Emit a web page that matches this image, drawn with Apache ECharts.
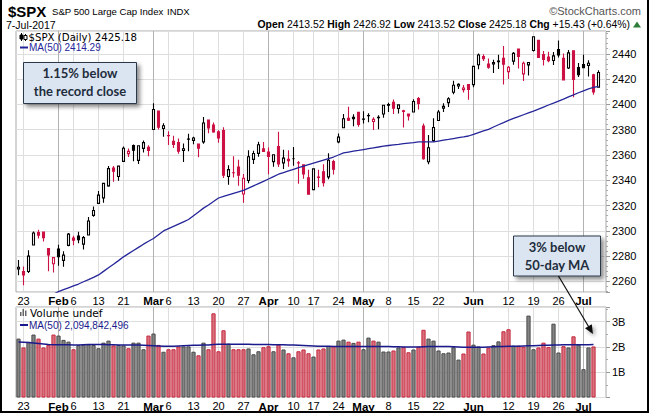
<!DOCTYPE html>
<html>
<head>
<meta charset="utf-8">
<script src="https://cdn.jsdelivr.net/npm/echarts@6/dist/echarts.min.js"></script>
<style>
html, body { margin: 0; padding: 0; background: #fff; }
#chart { width: 650px; height: 415px; }
</style>
</head>
<body>
<div id="chart"></div>
<script>
// trading days on the chart (2017)
var days = ['1/20','1/23','1/24','1/25','1/26','1/27','1/30','1/31',
  '2/1','2/2','2/3','2/6','2/7','2/8','2/9','2/10','2/13','2/14','2/15','2/16','2/17','2/21','2/22','2/23','2/24','2/27','2/28',
  '3/1','3/2','3/3','3/6','3/7','3/8','3/9','3/10','3/13','3/14','3/15','3/16','3/17','3/20','3/21','3/22','3/23','3/24','3/27','3/28','3/29','3/30','3/31',
  '4/3','4/4','4/5','4/6','4/7','4/10','4/11','4/12','4/13','4/17','4/18','4/19','4/20','4/21','4/24','4/25','4/26','4/27','4/28',
  '5/1','5/2','5/3','5/4','5/5','5/8','5/9','5/10','5/11','5/12','5/15','5/16','5/17','5/18','5/19','5/22','5/23','5/24','5/25','5/26','5/30','5/31',
  '6/1','6/2','6/5','6/6','6/7','6/8','6/9','6/12','6/13','6/14','6/15','6/16','6/19','6/20','6/21','6/22','6/23','6/26','6/27','6/28','6/29','6/30',
  '7/3','7/5','7/6','7/7'];

var opens = [2269.96,2267.78,2267.88,2288.88,2298.63,2299.02,2286.01,2274.02,
  2285.59,2276.69,2288.54,2294.28,2295.87,2289.55,2296.70,2312.27,2321.72,2326.12,2335.58,2349.64,2343.01,2354.91,2361.11,2367.50,2355.73,2365.23,2366.08,
  2380.13,2394.75,2380.92,2375.23,2370.74,2369.81,2363.49,2372.52,2371.56,2368.55,2370.34,2387.71,2383.71,2378.24,2379.32,2343.00,2345.97,2350.42,2329.11,2339.79,2356.54,2361.31,2364.82,
  2362.34,2354.76,2366.59,2353.79,2356.59,2357.16,2353.92,2352.15,2341.98,2332.62,2342.53,2346.79,2342.69,2354.74,2370.33,2381.51,2388.98,2389.70,2393.68,
  2388.50,2391.05,2386.50,2389.79,2392.37,2399.94,2401.58,2396.79,2394.84,2392.44,2393.98,2404.55,2382.95,2354.69,2371.37,2387.21,2397.04,2401.41,2409.54,2414.50,2411.67,2415.63,
  2415.65,2431.28,2437.83,2431.92,2432.03,2434.27,2436.39,2425.88,2434.15,2443.75,2424.14,2431.24,2442.55,2450.66,2439.31,2437.40,2434.65,2443.32,2436.34,2428.70,2442.38,2429.20,
  2431.39,2430.78,2423.44,2413.52];
var highs = [2276.96,2271.78,2284.63,2299.55,2300.99,2299.02,2286.01,2279.09,
  2289.14,2283.97,2298.31,2296.18,2299.40,2295.91,2311.08,2319.23,2331.58,2337.58,2351.30,2351.31,2351.16,2366.71,2365.13,2368.26,2367.34,2371.54,2367.79,
  2400.98,2394.75,2385.14,2378.80,2375.12,2373.09,2369.08,2376.86,2374.42,2368.55,2390.01,2388.10,2385.71,2379.55,2381.93,2351.81,2358.92,2356.22,2344.90,2363.78,2363.36,2370.42,2370.35,
  2365.87,2360.53,2378.36,2364.16,2363.76,2366.37,2355.22,2352.72,2348.26,2349.14,2348.35,2352.63,2361.37,2356.18,2376.98,2392.48,2398.16,2392.10,2393.68,
  2394.49,2392.93,2389.82,2391.43,2399.29,2401.36,2403.87,2399.74,2395.72,2392.44,2404.05,2405.77,2384.87,2375.74,2389.06,2395.46,2400.85,2405.58,2418.71,2416.68,2415.26,2415.99,
  2430.06,2440.23,2439.55,2436.21,2435.28,2439.27,2446.20,2430.38,2441.49,2443.75,2433.95,2433.15,2453.82,2450.66,2442.23,2441.62,2441.40,2450.42,2440.15,2442.97,2442.73,2432.71,
  2439.17,2434.90,2424.28,2426.92];
var lows = [2265.01,2257.02,2266.68,2288.88,2294.08,2291.62,2268.04,2267.21,
  2272.44,2271.65,2287.88,2288.57,2290.16,2285.38,2296.61,2311.10,2321.42,2322.17,2334.81,2338.87,2339.58,2354.91,2358.34,2355.09,2352.87,2361.87,2358.96,
  2380.13,2380.17,2374.42,2367.98,2365.51,2361.01,2354.54,2363.04,2368.52,2358.18,2368.94,2377.18,2377.64,2369.66,2341.90,2336.45,2342.13,2335.74,2322.25,2337.63,2352.94,2358.58,2362.60,
  2344.73,2350.72,2350.52,2348.90,2350.74,2351.50,2337.25,2341.18,2328.95,2332.51,2334.54,2335.05,2340.91,2344.51,2369.19,2381.15,2386.78,2382.68,2382.36,
  2384.83,2385.82,2379.75,2380.35,2389.38,2393.92,2392.44,2392.79,2381.74,2387.19,2393.94,2396.05,2356.21,2352.72,2370.43,2386.92,2393.88,2397.99,2408.01,2412.20,2409.43,2403.59,
  2413.54,2427.71,2434.32,2428.12,2424.75,2427.94,2415.70,2419.97,2431.28,2428.34,2418.53,2422.88,2441.79,2436.60,2430.74,2433.27,2431.11,2437.03,2419.38,2428.02,2405.70,2421.65,
  2428.69,2422.05,2407.70,2413.52];
var closes = [2271.31,2265.20,2280.07,2298.37,2296.68,2294.69,2280.90,2278.87,
  2279.55,2280.85,2297.42,2292.56,2293.08,2294.67,2307.87,2316.10,2328.25,2337.58,2349.25,2347.22,2351.16,2365.38,2362.82,2363.81,2367.34,2369.75,2363.64,
  2395.96,2381.92,2383.12,2375.31,2368.39,2362.98,2364.87,2372.60,2373.47,2365.45,2385.26,2381.38,2378.25,2373.47,2344.02,2348.45,2345.96,2343.98,2341.59,2358.57,2361.13,2368.06,2362.72,
  2358.84,2360.16,2352.95,2357.49,2355.54,2357.16,2353.78,2344.93,2328.95,2349.01,2342.19,2338.17,2355.84,2348.69,2374.15,2388.61,2387.45,2388.77,2384.20,
  2388.33,2391.17,2388.13,2389.52,2399.29,2399.38,2396.92,2399.63,2394.44,2390.90,2402.32,2400.67,2357.03,2365.72,2381.73,2394.02,2398.42,2404.39,2415.07,2415.82,2412.91,2411.80,
  2430.06,2439.07,2436.10,2429.33,2433.14,2433.79,2431.77,2429.39,2440.35,2437.92,2432.46,2433.15,2453.46,2437.03,2435.61,2434.50,2438.30,2439.07,2419.38,2440.69,2419.70,2423.41,
  2429.01,2432.54,2409.75,2425.18];

// 50-day moving average of the close
var ma50 = [2238,2240,2241.5,2243,2244.5,2246,2248,2250,
  2252,2253.5,2255,2256.5,2258,2259.8,2261.5,2263.3,2265.2,2268,2270.8,2273.6,2276.5,2279.5,2282,2284.5,2287,2289.5,2291.8,
  2294,2297,2300,2301.8,2303.6,2305.4,2307.2,2309,2312,2315,2318,2320.5,2323.2,2326,2327.2,2328.4,2329.6,2330.8,2332,2333.8,2335.6,2337.4,2339.2,
  2341,2342.9,2344.8,2346.1,2347.4,2348.7,2350,2351.2,2352.4,2353.6,2354.8,2356,2357.2,2358.4,2360,2361.6,2362.3,2363,2363.6,
  2364.3,2365,2365.7,2366.3,2367,2367.5,2368,2368.4,2368.9,2369.4,2369.8,2370.3,2370.3,2370.3,2370.3,2371,2371.7,2372.3,2373,2373.7,2374.3,2375,
  2376.3,2377.7,2379,2380.3,2382.1,2383.9,2385.6,2387.4,2388.9,2390.3,2391.8,2393.3,2394.7,2396.3,2397.9,2399.5,2401,2402.6,2404.2,2405.9,2407.5,2409.2,
  2410.7,2412.2,2413.5,2414.29];

// volume in billions (Jul 7 not reported yet)
var volumes = [2.33,1.98,2.20,2.49,2.33,1.98,2.08,2.49,
  2.45,2.28,2.21,1.91,2.07,2.10,2.10,2.08,1.95,2.17,2.25,2.06,2.08,2.06,1.95,2.17,2.17,1.91,2.45,
  2.53,2.08,1.81,1.91,1.91,2.02,2.02,2.02,1.81,1.67,2.17,1.91,3.33,1.83,2.66,2.13,1.91,1.91,1.91,1.94,1.71,1.83,1.99,
  2.03,1.83,2.09,1.90,1.75,1.59,1.83,1.90,1.75,1.62,1.90,1.94,2.04,2.04,2.25,2.29,2.21,2.16,2.21,
  1.91,2.37,2.25,2.21,1.82,1.82,1.86,1.98,2.00,1.79,1.90,2.01,2.68,2.33,2.25,1.86,1.75,1.78,1.99,1.50,1.74,2.61,
  2.09,2.02,1.74,1.97,2.07,2.22,2.62,2.70,2.05,2.05,2.01,3.24,1.91,1.98,2.17,2.00,2.92,1.78,2.03,1.98,2.42,2.09,
  1.12,1.98,2.02,null];
var volMa50 = [2.20,2.19,2.18,2.16,2.14,2.12,2.10,2.09,
  2.09,2.09,2.09,2.08,2.08,2.09,2.10,2.10,2.10,2.10,2.09,2.09,2.08,2.08,2.08,2.08,2.08,2.07,2.06,
  2.05,2.04,2.03,2.03,2.03,2.04,2.05,2.06,2.07,2.07,2.08,2.08,2.10,2.11,2.11,2.11,2.11,2.11,2.11,2.11,2.10,2.10,2.10,
  2.10,2.09,2.09,2.09,2.08,2.08,2.07,2.06,2.05,2.04,2.03,2.03,2.03,2.02,2.02,2.02,2.02,2.02,2.02,
  2.02,2.02,2.02,2.02,2.02,2.02,2.01,2.01,2.00,2.00,2.00,2.00,2.01,2.02,2.02,2.02,2.02,2.02,2.01,2.00,1.99,1.99,
  1.99,1.99,1.99,2.00,2.01,2.02,2.02,2.03,2.03,2.03,2.04,2.05,2.05,2.06,2.07,2.07,2.08,2.08,2.09,2.09,2.09,2.09,
  2.09,2.09,2.095,null];

// date labels under both panels
var tickDays = ['1/23','2/1','2/6','2/13','2/21','3/1','3/6','3/13','3/20','3/27','4/3','4/10','4/17','4/24',
  '5/1','5/8','5/15','5/22','6/1','6/12','6/19','6/26','7/3'];
var tickText = ['23','Feb','6','13','21','Mar','6','13','20','27','Apr','10','17','24',
  'May','8','15','22','Jun','12','19','26','Jul'];
var monthNames = ['Feb','Mar','Apr','May','Jun','Jul'];

var RED = '#cc1144';
var fam = '"Liberation Sans", Arial, sans-serif';
var wide = '"DejaVu Sans", Verdana, sans-serif';
var callFont = 'Lato, "Open Sans", sans-serif';
var cats = days.concat(['']);  // one empty slot after the last day

var candleData = [];
var volData = [];
for (var i = 0; i < days.length; i++) {
  var prev = i > 0 ? closes[i - 1] : closes[i];
  var col = closes[i] < prev ? RED : '#000';
  var fill = closes[i] > opens[i] ? '#fff' : col;
  candleData.push({
    value: [opens[i], closes[i], lows[i], highs[i]],
    itemStyle: { color: fill, color0: fill, borderColor: col, borderColor0: col, borderColorDoji: col }
  });
  var down = closes[i] < prev;
  volData.push({
    value: volumes[i] == null ? null : volumes[i] * 1e9,
    itemStyle: down
      ? { color: 'rgba(200,60,80,0.72)', borderColor: '#c8283c', borderWidth: 1 }
      : { color: '#848484', borderColor: '#4a4a4a', borderWidth: 1 }
  });
}

function isMonth(d) {
  var k = tickDays.indexOf(d);
  return k >= 0 && monthNames.indexOf(tickText[k]) >= 0;
}

var vLines = tickDays.map(function (d) {
  return { xAxis: d, lineStyle: { color: isMonth(d) ? '#b2b2b2' : '#dedede', width: 1, type: 'solid' } };
});

function xAxisFor(gi) {
  return {
    type: 'category', gridIndex: gi, data: cats, boundaryGap: true,
    axisLine: { show: false }, axisTick: { show: false }, splitLine: { show: false },
    axisLabel: {
      margin: 3, color: '#000', fontSize: 11, fontFamily: fam,
      interval: function (idx, val) { return tickDays.indexOf(val) >= 0; },
      formatter: function (val) {
        var k = tickDays.indexOf(val);
        if (k < 0) return '';
        return isMonth(val) ? '{b|' + tickText[k] + '}' : tickText[k];
      },
      rich: { b: { fontWeight: 'bold', fontSize: 11.5, fontFamily: fam, color: '#000' } }
    }
  };
}

function gridLinesSeries(xi, yi) {
  return {
    type: 'line', xAxisIndex: xi, yAxisIndex: yi, data: [], silent: true,
    markLine: { silent: true, z: 1, symbol: ['none', 'none'], label: { show: false }, animation: false, data: vLines }
  };
}

var notes = [
  // header
  { type: 'text', x: 8, y: 11, style: { text: '$SPX', fontSize: 15, fontWeight: 'bold', fontFamily: fam, fill: '#000', verticalAlign: 'middle' } },
  { type: 'text', x: 52, y: 11.5, style: { text: 'S&P 500 Large Cap Index', fontSize: 9.6, fontFamily: fam, fill: '#000', verticalAlign: 'middle' } },
  { type: 'text', x: 167, y: 11.5, style: { text: 'INDX', fontSize: 9.5, fontFamily: fam, fill: '#000', verticalAlign: 'middle' } },
  { type: 'text', x: 641, y: 11, style: { text: '\u00a9StockCharts.com', fontSize: 11, fontFamily: fam, fill: '#555', align: 'right', verticalAlign: 'middle' } },
  { type: 'text', x: 6, y: 25, style: { text: '7-Jul-2017', fontSize: 10.5, fontFamily: fam, fill: '#000', verticalAlign: 'middle' } },
  { type: 'text', x: 630, y: 24.5, style: {
    text: '{b|Open} 2413.52 {b|High} 2426.92 {b|Low} 2413.52 {b|Close} 2425.18 {b|Chg} +15.43 (+0.64%)',
    fontSize: 10.4, fontFamily: fam, fill: '#000', align: 'right', verticalAlign: 'middle',
    rich: { b: { fontWeight: 'bold', fontSize: 10.4, fontFamily: fam, fill: '#000' } }
  } },
  { type: 'polygon', shape: { points: [[633, 27.5], [641, 27.5], [637, 21.5]] }, style: { fill: '#2e7d3a' } },

  // price panel legend
  { type: 'line', shape: { x1: 21.5, y1: 33, x2: 21.5, y2: 41 }, style: { stroke: '#000', lineWidth: 1 } },
  { type: 'rect', shape: { x: 20, y: 35, width: 3, height: 4 }, style: { fill: '#000', stroke: '#000', lineWidth: 1 } },
  { type: 'line', shape: { x1: 25.5, y1: 34, x2: 25.5, y2: 41 }, style: { stroke: '#000', lineWidth: 1 } },
  { type: 'rect', shape: { x: 24, y: 35.5, width: 3, height: 4 }, style: { fill: '#fff', stroke: '#000', lineWidth: 1 } },
  { type: 'text', x: 28.5, y: 37, style: { text: '$SPX (Daily) 2425.18', fontSize: 10.2, fontFamily: wide, fill: '#000', verticalAlign: 'middle' } },
  { type: 'line', shape: { x1: 20, y1: 47.5, x2: 28, y2: 47.5 }, style: { stroke: '#25259a', lineWidth: 2 } },
  { type: 'text', x: 29, y: 47.5, style: { text: 'MA(50) 2414.29', fontSize: 10, fontFamily: fam, fill: '#25259a', verticalAlign: 'middle' } },

  // volume panel legend
  { type: 'rect', shape: { x: 20, y: 312, width: 1.5, height: 4 }, style: { fill: '#666' } },
  { type: 'rect', shape: { x: 22.5, y: 309, width: 1.5, height: 7 }, style: { fill: '#666' } },
  { type: 'rect', shape: { x: 25, y: 310.5, width: 1.5, height: 5.5 }, style: { fill: '#666' } },
  { type: 'text', x: 30, y: 313, style: { text: 'Volume undef', fontSize: 10.5, fontFamily: wide, fill: '#000', verticalAlign: 'middle' } },
  { type: 'line', shape: { x1: 20, y1: 325, x2: 28, y2: 325 }, style: { stroke: '#1a1a8c', lineWidth: 2 } },
  { type: 'text', x: 29, y: 325, style: { text: 'MA(50) 2,094,842,496', fontSize: 10, fontFamily: fam, fill: '#1a1a8c', verticalAlign: 'middle' } },

  // callouts
  { type: 'rect', shape: { x: 23.5, y: 62.5, width: 113, height: 41 },
    style: { fill: '#dbe5f1', stroke: '#2a3848', lineWidth: 1, shadowBlur: 4, shadowOffsetX: 3, shadowOffsetY: 3, shadowColor: 'rgba(0,0,0,0.45)' } },
  { type: 'text', x: 80, y: 73, style: { text: '1.15% below', fontSize: 13, fontWeight: 'bold', fontFamily: callFont, fill: '#1f2d3d', align: 'center', verticalAlign: 'middle' } },
  { type: 'text', x: 80, y: 91, style: { text: 'the record close', fontSize: 13, fontWeight: 'bold', fontFamily: callFont, fill: '#1f2d3d', align: 'center', verticalAlign: 'middle' } },

  { type: 'rect', shape: { x: 513.5, y: 236, width: 87, height: 40 },
    style: { fill: '#dbe5f1', stroke: '#2a3848', lineWidth: 1, shadowBlur: 4, shadowOffsetX: 3, shadowOffsetY: 3, shadowColor: 'rgba(0,0,0,0.45)' } },
  { type: 'text', x: 557, y: 247, style: { text: '3% below', fontSize: 13, fontWeight: 'bold', fontFamily: callFont, fill: '#1f2d3d', align: 'center', verticalAlign: 'middle' } },
  { type: 'text', x: 557, y: 265, style: { text: '50-day MA', fontSize: 13, fontWeight: 'bold', fontFamily: callFont, fill: '#1f2d3d', align: 'center', verticalAlign: 'middle' } },
  { type: 'line', shape: { x1: 558.5, y1: 276, x2: 590, y2: 329 }, style: { stroke: '#111', lineWidth: 1.2 } },
  { type: 'polygon', shape: { points: [[593, 334], [585, 328.3], [591.8, 324.3]] },
    style: { fill: '#111', shadowBlur: 4, shadowOffsetX: 2, shadowOffsetY: 2, shadowColor: 'rgba(0,0,0,0.4)' } },

  // outer frame
  { type: 'rect', shape: { x: 1, y: -2, width: 647, height: 414 }, style: { fill: 'none', stroke: '#000', lineWidth: 2 } }
];
notes.forEach(function (el) { el.z = 100; });

var chart = echarts.init(document.getElementById('chart'), null, { renderer: 'svg' });
chart.setOption({
  animation: false,
  backgroundColor: '#fff',
  grid: [
    { left: 16, top: 31, width: 590, height: 261, show: true, borderColor: '#a8a8a8', borderWidth: 1 },
    { left: 16, top: 307, width: 590, height: 90.5, show: true, borderColor: '#a8a8a8', borderWidth: 1 }
  ],
  xAxis: [xAxisFor(0), xAxisFor(1)],
  yAxis: [
    {
      type: 'value', gridIndex: 0, position: 'right', min: 2251.7, max: 2458, splitNumber: 10,
      axisLine: { show: false },
      axisTick: { show: true, length: 4, lineStyle: { color: '#999' } },
      minorTick: { show: true, splitNumber: 5, length: 2, lineStyle: { color: '#aaa' } },
      splitLine: { lineStyle: { color: '#dedede' } },
      axisLabel: {
        margin: 6, color: '#000', fontSize: 11, fontFamily: fam, showMinLabel: false, showMaxLabel: false,
        formatter: function (v) { return v % 20 === 0 ? String(v) : ''; }
      }
    },
    {
      type: 'value', gridIndex: 1, position: 'right', min: 0, max: 3.58e9, interval: 1e9,
      axisLine: { show: false },
      axisTick: { show: true, length: 4, lineStyle: { color: '#999' } },
      minorTick: { show: true, splitNumber: 2, length: 2, lineStyle: { color: '#aaa' } },
      splitLine: { lineStyle: { color: '#dedede' } },
      axisLabel: {
        margin: 6, color: '#000', fontSize: 11, fontFamily: fam,
        formatter: function (v) {
          var b = Math.round(v / 1e9);
          return (b > 0 && Math.abs(v - b * 1e9) < 1) ? b + 'B' : '';
        }
      }
    }
  ],
  series: [
    gridLinesSeries(0, 0),
    gridLinesSeries(1, 1),
    {
      type: 'candlestick', xAxisIndex: 0, yAxisIndex: 0, barWidth: 3.4,
      itemStyle: { borderWidth: 1.1 }, data: candleData
    },
    {
      type: 'line', xAxisIndex: 0, yAxisIndex: 0, data: ma50, symbol: 'none', z: 3,
      lineStyle: { color: '#25259a', width: 1.3 }
    },
    {
      type: 'bar', xAxisIndex: 1, yAxisIndex: 1, barWidth: 4.2, data: volData
    },
    {
      type: 'line', xAxisIndex: 1, yAxisIndex: 1, symbol: 'none', z: 3,
      data: volMa50.map(function (v) { return v == null ? null : v * 1e9; }),
      lineStyle: { color: '#1a1a8c', width: 1.5 }
    }
  ],
  graphic: { elements: notes }
});
</script>
</body>
</html>
